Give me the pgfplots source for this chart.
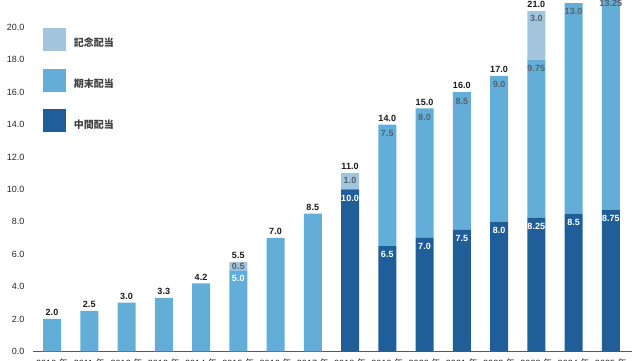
\documentclass[border=0pt]{standalone}
\usepackage{pgfplots}
\pgfplotsset{compat=1.18}
\usepackage{fontspec}
\setmainfont{Liberation Sans}
\newfontfamily\cjk{Noto Sans CJK JP}
\newcommand\nen{{\cjk 年}}
\definecolor{cDark}{RGB}{31,94,153}
\definecolor{cMid}{RGB}{99,174,216}
\definecolor{cLight}{RGB}{163,196,221}
\definecolor{cLab}{RGB}{85,97,110}
\pgfplotsset{
  common/.style={
    at={(52pt,8.7pt)}, anchor=origin,
    x=37.25pt, y=16.2pt,
    xmin=-0.51, xmax=15.57, ymin=0, ymax=23,
    enlargelimits=false, clip=false},
  lab/.style={only marks, mark=none, point meta=explicit symbolic,
    nodes near coords={\pgfplotspointmeta},
    every node near coord/.append style={inner sep=0pt,
      font=\bfseries\fontsize{9}{10}\selectfont, #1}},
}
\begin{document}
\begin{tikzpicture}[x=1pt,y=1pt]
\begin{axis}[
  common,
  axis x line*=bottom, axis y line*=left,
  y axis line style={draw=none},
  x axis line style={black!65, line width=0.8pt},
  major tick length=0pt,
  ytick={0,2,...,20},
  /pgf/number format/assume math mode=true,
  yticklabel style={anchor=east, inner sep=0pt, xshift=-8.5pt,
    font=\fontsize{9}{10}\selectfont, text=black!85,
    /pgf/number format/fixed, /pgf/number format/fixed zerofill,
    /pgf/number format/precision=1},
  xtick={0,...,15},
  xticklabels={2010 \nen,2011 \nen,2012 \nen,2013 \nen,2014 \nen,2015 \nen,2016 \nen,2017 \nen,2018 \nen,2019 \nen,2020 \nen,2021 \nen,2022 \nen,2023 \nen,2024 \nen,2025 \nen},
  xticklabel style={anchor=north, inner sep=0pt, yshift=-7.5pt,
    font=\fontsize{9}{10}\selectfont, text=black!85},
  ybar stacked, bar width=18pt,
  legend image code/.code={\fill[#1] (0pt,-7.7pt) rectangle (23pt,15.3pt);},
  reverse legend,
  legend cell align=left,
  legend style={at={(0.01716,0.8685)}, anchor=north west, draw=none, fill=none,
    inner sep=0pt, row sep=17.7pt, column sep=7.3pt,
    nodes={inner sep=0pt},
    font=\cjk\bfseries\fontsize{10}{12}\selectfont, text=black!75},
]
\addplot[fill=cDark, draw=none]
coordinates {(0,0) (1,0) (2,0) (3,0) (4,0) (5,0) (6,0) (7,0)
 (8,10.0) (9,6.5) (10,7.0) (11,7.5) (12,8.0) (13,8.25) (14,8.5) (15,8.75)};
\addlegendentry{中間配当}
\addplot[fill=cMid, draw=none]
coordinates {(0,2.0) (1,2.5) (2,3.0) (3,3.3) (4,4.2) (5,5.0) (6,7.0) (7,8.5)
 (8,0) (9,7.5) (10,8.0) (11,8.5) (12,9.0) (13,9.75) (14,13.0) (15,13.25)};
\addlegendentry{期末配当}
\addplot[fill=cLight, draw=none]
coordinates {(0,0) (1,0) (2,0) (3,0) (4,0) (5,0.5) (6,0) (7,0)
 (8,1.0) (9,0) (10,0) (11,0) (12,0) (13,3.0) (14,0) (15,0)};
\addlegendentry{記念配当}
\end{axis}
\begin{axis}[common, hide axis]
% interim labels (top of dark segment)
\addplot[lab={anchor=north, yshift=-5.5pt, text=white}]
coordinates {(8,10.0)[10.0] (9,6.5)[6.5] (10,7.0)[7.0] (11,7.5)[7.5] (12,8.0)[8.0]
 (13,8.25)[8.25] (14,8.5)[8.5] (15,8.75)[8.75]};
% year-end labels (top of mid segment, cumulative)
\addplot[lab={anchor=north, yshift=-5.5pt, text=cLab}]
coordinates {(9,14.0)[7.5] (10,15.0)[8.0] (11,16.0)[8.5] (12,17.0)[9.0]
 (13,18.0)[9.75] (14,21.5)[13.0] (15,22.0)[13.25]};
\addplot[lab={anchor=north, yshift=-4.5pt, text=white}]
coordinates {(5,5.0)[5.0]};
% commemorative labels
\addplot[lab={anchor=north, yshift=-3.5pt, text=cLab}]
coordinates {(8,11.0)[1.0] (13,21.0)[3.0]};
\addplot[lab={anchor=north, yshift=-1.3pt, text=cLab}]
coordinates {(5,5.5)[0.5]};
% totals
\addplot[lab={anchor=south, yshift=3pt, text=black!90}]
coordinates {(0,2.0)[2.0] (1,2.5)[2.5] (2,3.0)[3.0] (3,3.3)[3.3] (4,4.2)[4.2] (5,5.5)[5.5]
 (6,7.0)[7.0] (7,8.5)[8.5] (8,11.0)[11.0] (9,14.0)[14.0] (10,15.0)[15.0] (11,16.0)[16.0]
 (12,17.0)[17.0] (13,21.0)[21.0] (14,21.5)[21.5] (15,22.0)[22.0]};
\end{axis}
\pgfresetboundingbox
\path[use as bounding box] (0,0) rectangle (640,360);
\end{tikzpicture}
\end{document}
